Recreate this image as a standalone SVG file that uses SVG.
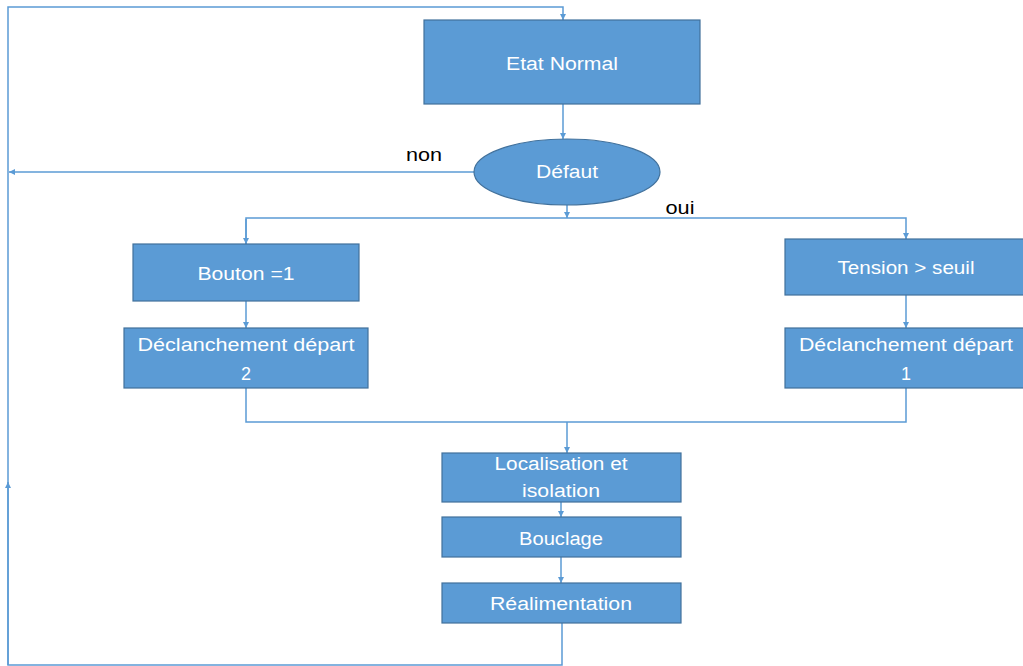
<svg xmlns="http://www.w3.org/2000/svg" width="1023" height="666" viewBox="0 0 1023 666">
  <defs>
    <marker id="arrow" viewBox="0 0 10 10" refX="10" refY="5" markerWidth="6" markerHeight="6" orient="auto" markerUnits="userSpaceOnUse">
      <path d="M0,0 L10,5 L0,10 z" fill="#5b9bd5"/>
    </marker>
    <style>
      .box { fill: #5b9bd5; stroke: #41719c; stroke-width: 1.2; }
      .lbl { fill: #ffffff; font-family: "Liberation Sans", Arial, sans-serif; font-size: 18px; text-anchor: middle; }
      .note { fill: #000000; font-family: "Liberation Sans", Arial, sans-serif; font-size: 18px; text-anchor: middle; }
      .wire { fill: none; stroke: #5b9bd5; stroke-width: 1.5; }
    </style>
  </defs>
  <rect width="1023" height="666" fill="#ffffff"/>

  <g id="connectors">
    <!-- return loop from Réalimentation back to Etat Normal -->
    <path class="wire" d="M562,623 V665 H8 V7 H563 V20" marker-end="url(#arrow)"/>
    <path class="wire" d="M8,665 V482" marker-end="url(#arrow)"/>
    <!-- Etat Normal to Défaut -->
    <path class="wire" d="M563,104 V139" marker-end="url(#arrow)"/>
    <!-- non branch -->
    <path class="wire" d="M474,172 H9" marker-end="url(#arrow)"/>
    <!-- oui branch -->
    <path class="wire" d="M567,205 V218" marker-end="url(#arrow)"/>
    <path class="wire" d="M246,244 V218 H906 V239" marker-end="url(#arrow)"/>
    <path class="wire" d="M246,219 V244" marker-end="url(#arrow)"/>
    <path class="wire" d="M246,301 V328" marker-end="url(#arrow)"/>
    <path class="wire" d="M906,295 V328" marker-end="url(#arrow)"/>
    <!-- merge into Localisation -->
    <path class="wire" d="M246,388 V422 H906 V388"/>
    <path class="wire" d="M567,422 V453" marker-end="url(#arrow)"/>
    <path class="wire" d="M561,502 V517" marker-end="url(#arrow)"/>
    <path class="wire" d="M561,557 V583" marker-end="url(#arrow)"/>
  </g>

  <g id="etat-normal">
    <rect class="box" x="424" y="20" width="276" height="84"/>
    <text class="lbl" x="562" y="70" textLength="112" lengthAdjust="spacingAndGlyphs">Etat Normal</text>
  </g>

  <g id="defaut">
    <ellipse class="box" cx="567" cy="172" rx="93" ry="33"/>
    <text class="lbl" x="567" y="178" textLength="62" lengthAdjust="spacingAndGlyphs">Défaut</text>
  </g>

  <g id="label-non">
    <text class="note" x="424" y="161" textLength="36" lengthAdjust="spacingAndGlyphs">non</text>
  </g>
  <g id="label-oui">
    <text class="note" x="680" y="214" textLength="29" lengthAdjust="spacingAndGlyphs">oui</text>
  </g>

  <g id="bouton">
    <rect class="box" x="133" y="244" width="226" height="57"/>
    <text class="lbl" x="246" y="280" textLength="97" lengthAdjust="spacingAndGlyphs">Bouton =1</text>
  </g>

  <g id="tension">
    <rect class="box" x="785" y="239" width="240" height="56"/>
    <text class="lbl" x="906" y="274" textLength="137" lengthAdjust="spacingAndGlyphs">Tension &gt; seuil</text>
  </g>

  <g id="declanchement-2">
    <rect class="box" x="124" y="328" width="244" height="60"/>
    <text class="lbl" x="246" y="351" textLength="217" lengthAdjust="spacingAndGlyphs">Déclanchement départ</text>
    <text class="lbl" x="246" y="380">2</text>
  </g>

  <g id="declanchement-1">
    <rect class="box" x="785" y="328" width="240" height="60"/>
    <text class="lbl" x="906" y="351" textLength="214" lengthAdjust="spacingAndGlyphs">Déclanchement départ</text>
    <text class="lbl" x="906" y="380">1</text>
  </g>

  <g id="localisation">
    <rect class="box" x="442" y="453" width="239" height="49"/>
    <text class="lbl" x="561" y="470" textLength="133" lengthAdjust="spacingAndGlyphs">Localisation et</text>
    <text class="lbl" x="561" y="497" textLength="78" lengthAdjust="spacingAndGlyphs">isolation</text>
  </g>

  <g id="bouclage">
    <rect class="box" x="442" y="517" width="239" height="40"/>
    <text class="lbl" x="561" y="545" textLength="84" lengthAdjust="spacingAndGlyphs">Bouclage</text>
  </g>

  <g id="realimentation">
    <rect class="box" x="442" y="583" width="239" height="40"/>
    <text class="lbl" x="561" y="610" textLength="142" lengthAdjust="spacingAndGlyphs">Réalimentation</text>
  </g>
</svg>
